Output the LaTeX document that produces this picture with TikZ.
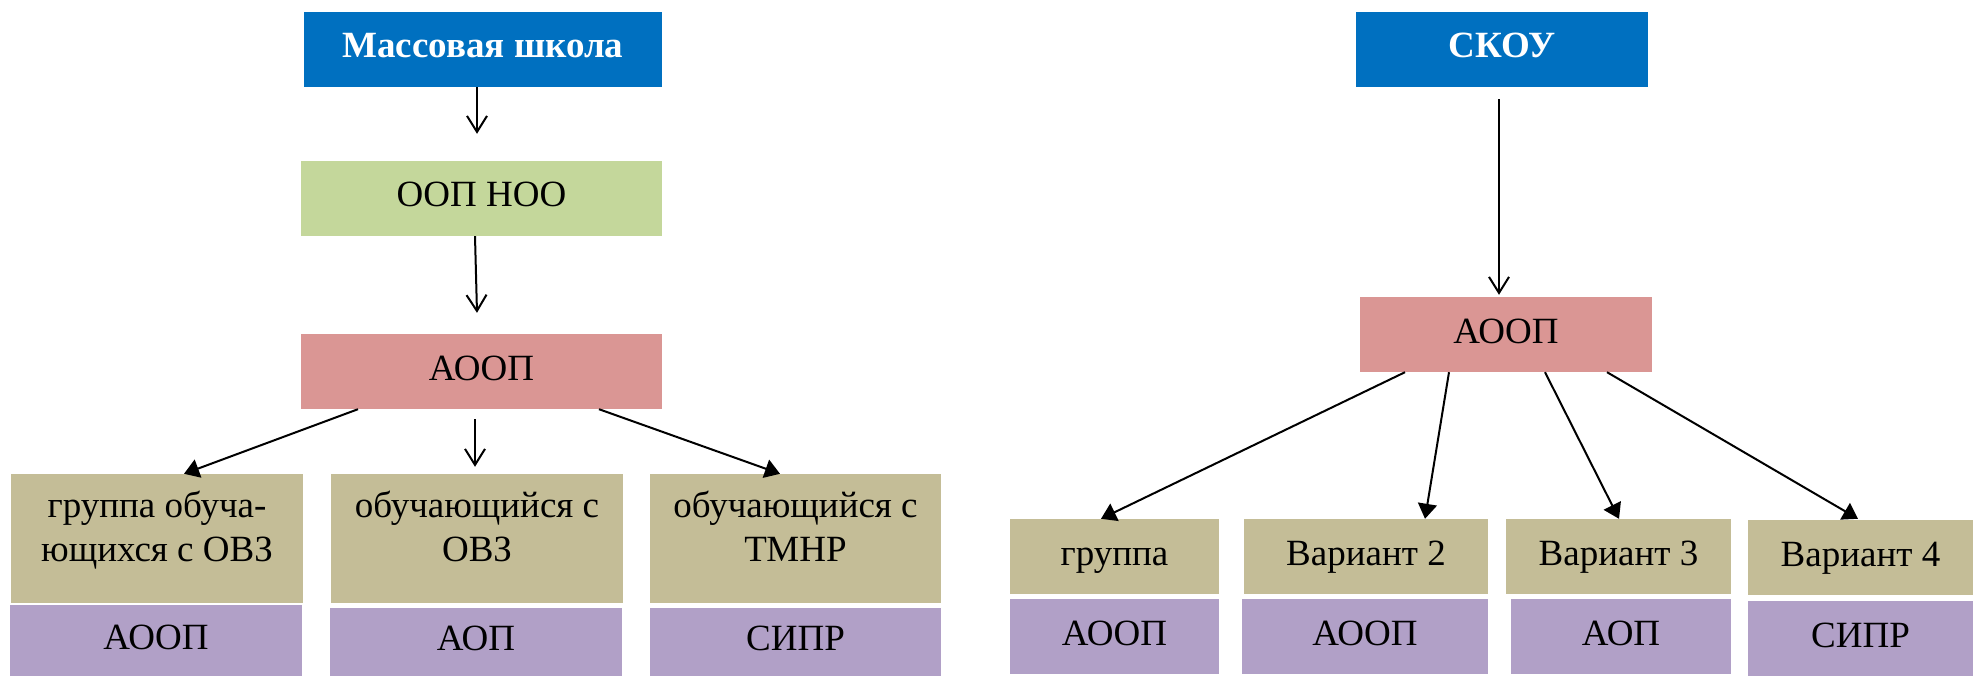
\documentclass[tikz,border=0pt]{standalone}
\usepackage{fontspec}
\setmainfont{Liberation Serif}
\usetikzlibrary{arrows.meta,calc}
\definecolor{cblue}{RGB}{0,112,192}
\definecolor{cgreen}{RGB}{196,215,155}
\definecolor{cpink}{RGB}{218,150,148}
\definecolor{ctan}{RGB}{196,189,151}
\definecolor{cpurple}{RGB}{177,160,199}
\begin{document}
\begin{tikzpicture}[x=1pt,y=1pt,
  box/.style={rectangle, inner sep=0pt, text height=25pt, text depth=8pt, font=\fontsize{37}{44}\selectfont},
  bluebox/.style={box, fill=cblue, text=white, font=\fontsize{37}{44}\selectfont\bfseries},
  greenbox/.style={box, fill=cgreen},
  pinkbox/.style={box, fill=cpink},
  tanbox/.style={box, fill=ctan},
  purplebox/.style={box, fill=cpurple},
  wh/.style 2 args={minimum width=#1pt, minimum height=#2pt},
  ltext/.style={align=center, inner sep=0pt, font=\fontsize{37}{44}\selectfont},
  openarr/.style={draw, line width=2pt, -{Straight Barb[length=16pt,width=20pt]}},
  fillarr/.style={draw, line width=2pt, -{Triangle[length=15pt,width=19pt]}}
]
\useasboundingbox (0,0) rectangle (1973,-676);
% left part
\node[bluebox, wh={358}{75}] (mass) at (483,-49.5) {Массовая школа};
\node[greenbox, wh={361}{75}] (oop) at (481.5,-198.5) {ООП НОО};
\node[pinkbox, wh={361}{75}] (aoopL) at (481.5,-371.5) {АООП};
\node[tanbox, wh={292}{129}] (t1) at (157,-538.5) {};
\node[tanbox, wh={292}{129}] (t2) at (477,-538.5) {};
\node[tanbox, wh={291}{129}] (t3) at (795.5,-538.5) {};
\node[ltext, anchor=north] (t1txt) at ($(t1.north)+(0,-17)$) {группа обуча-\\ющихся с ОВЗ};
\node[ltext, anchor=north] (t2txt) at ($(t2.north)+(0,-17)$) {обучающийся с\\ОВЗ};
\node[ltext, anchor=north] (t3txt) at ($(t3.north)+(0,-17)$) {обучающийся с\\ТМНР};
\node[purplebox, wh={292}{71}] (p1) at (156,-640.5) {АООП};
\node[purplebox, wh={292}{68}] (p2) at (476,-642) {АОП};
\node[purplebox, wh={291}{68}] (p3) at (795.5,-642) {СИПР};
\draw[openarr] ($(mass.south)+(-6,0)$) -- ($(oop.north)+(-4.5,27)$);
\draw[openarr] ($(oop.south)+(-6.5,0)$) -- ($(aoopL.north)+(-4.5,21)$);
\draw[fillarr] ($(aoopL.south)+(-123.5,0)$) -- ($(t1.north)+(27,0)$);
\draw[openarr] ($(aoopL.south)+(-6.5,-10)$) -- ($(t2.north)+(-2,7)$);
\draw[fillarr] ($(aoopL.south)+(117.5,0)$) -- ($(t3.north)+(-15.5,0)$);
% right part
\node[bluebox, wh={292}{75}] (skou) at (1502,-49.5) {СКОУ};
\node[pinkbox, wh={292}{75}] (aoopR) at (1506,-334.5) {АООП};
\node[tanbox, wh={209}{75}] (r1) at (1114.5,-556.5) {группа};
\node[tanbox, wh={244}{75}] (r2) at (1366,-556.5) {Вариант 2};
\node[tanbox, wh={225}{75}] (r3) at (1618.5,-556.5) {Вариант 3};
\node[tanbox, wh={225}{75}] (r4) at (1860.5,-557.5) {Вариант 4};
\node[purplebox, wh={209}{75}] (q1) at (1114.5,-636.5) {АООП};
\node[purplebox, wh={246}{75}] (q2) at (1365,-636.5) {АООП};
\node[purplebox, wh={220}{75}] (q3) at (1621,-636.5) {АОП};
\node[purplebox, wh={225}{75}] (q4) at (1860.5,-638.5) {СИПР};
\draw[openarr] ($(skou.south)+(-3,-12)$) -- ($(aoopR.north)+(-7,2)$);
\draw[fillarr] ($(aoopR.south)+(-101,0)$) -- ($(r1.north)+(-13.5,0)$);
\draw[fillarr] ($(aoopR.south)+(-57,0)$) -- ($(r2.north)+(59,0)$);
\draw[fillarr] ($(aoopR.south)+(39,0)$) -- ($(r3.north)+(0.5,0)$);
\draw[fillarr] ($(aoopR.south)+(101,0)$) -- ($(r4.north)+(-2.5,1)$);
\end{tikzpicture}
\end{document}
